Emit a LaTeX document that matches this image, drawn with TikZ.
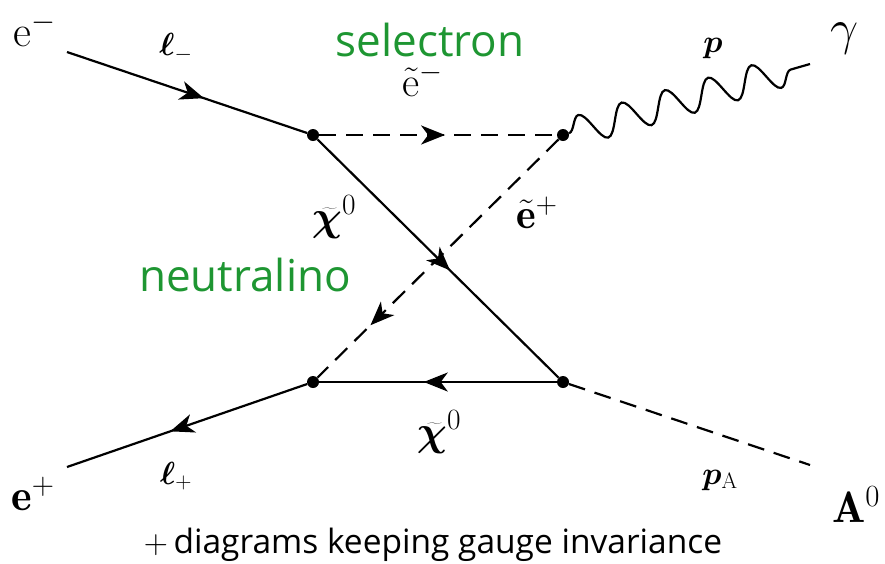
\RequirePackage{fix-cm}
\documentclass[tikz,border=0pt]{standalone}
\usepackage{bm}
\usepackage{fontspec}
\newfontfamily\osans{Open Sans}
\usetikzlibrary{arrows.meta,decorations.markings,decorations.pathmorphing}
\definecolor{labgreen}{RGB}{30,150,50}
\tikzset{
  lin/.style={line width=2.2pt, line cap=butt},
  dsh/.style={lin, dash pattern=on 17pt off 10pt},
  arr/.style={postaction={decorate}, decoration={markings,
      mark=at position #1 with {\arrow{Stealth[length=24pt,width=19pt,inset=7pt]}}}},
  vtx/.style={circle, fill=black, inner sep=0pt, minimum size=12pt},
  big/.style={inner sep=0pt, font=\fontsize{44}{50}\selectfont},
  mid/.style={inner sep=0pt, font=\fontsize{42}{48}\selectfont},
  sml/.style={inner sep=0pt, font=\fontsize{32}{38}\selectfont},
  grn/.style={inner sep=0pt, text=labgreen, font=\osans\fontsize{44}{50}\selectfont},
}
\begin{document}
\begin{tikzpicture}[x=1pt,y=-1pt]
\useasboundingbox (0,0) rectangle (885,563);
% vertices
\node[vtx] (A) at (313,135) {};
\node[vtx] (B) at (563,135) {};
\node[vtx] (C) at (313,382) {};
\node[vtx] (D) at (563,382) {};
\coordinate (em) at (67,52);
\coordinate (ep) at (67,467);
\coordinate (ga) at (810,64);
\coordinate (a0) at (810,465);
% lines
\draw[lin, arr=0.57] (em) -- (A);
\draw[dsh, arr=0.53] (A) -- (B);
\draw[lin, arr=0.55] (A) -- (D);
\draw[dsh, arr=0.78] (B) -- (C);
\draw[lin, arr=0.56] (D) -- (C);
\draw[lin, arr=0.57] (C) -- (ep);
\draw[dsh] (D) -- (a0);
\draw[lin, decorate, decoration={snake, segment length=45pt, amplitude=15pt, post length=1pt}] (B) -- (ga);
% labels
\node[big] (lem) at (35,30) {$\mathrm{e}^-$};
\node[big] (lep) at (33,494) {$\mathbf{e}^+$};
\node[big] (lA) at (856,505) {$\mathbf{A}^0$};
\node[inner sep=0pt, font=\fontsize{50}{56}\selectfont] (lg) at (845,39) {$\gamma$};
\node[sml] (l1) at (176,48) {$\bm{\ell}_-$};
\node[sml] (l2) at (176,476) {$\bm{\ell}_+$};
\node[sml] (lp) at (713,48) {$\bm{p}$};
\node[sml] (lpa) at (720,480) {$\bm{p}_{\mathrm{A}}$};
\node[mid] (lse) at (423,80) {$\tilde{\mathrm{e}}^-$};
\node[mid] (lsep) at (537,213) {$\tilde{\mathbf{e}}^+$};
\node[mid] (lc1) at (334,217) {$\widetilde{\bm{\chi}}^0$};
\node[mid] (lc2) at (439,432) {$\widetilde{\bm{\chi}}^0$};
\node[grn] (sel) at (430,40) {selectron};
\node[grn] (neu) at (245,275) {neutralino};
\node[inner sep=0pt, font=\osans\fontsize{33.5}{38}\selectfont] (foot) at (433,545) {$+$\,diagrams keeping gauge invariance};
\end{tikzpicture}
\end{document}
